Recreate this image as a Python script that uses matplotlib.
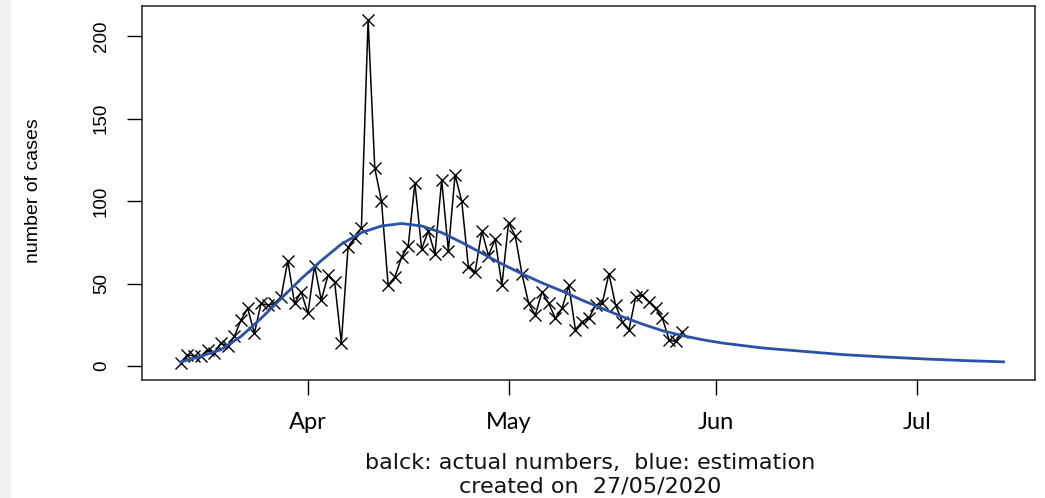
import numpy as np
import pandas as pd
import matplotlib
matplotlib.use('Agg')
from matplotlib import pyplot as plt
from matplotlib.patches import Rectangle

# daily reported cases, 13/03 .. 27/05
start_actual = '2020-03-13'
actual = [2, 7, 6, 6, 10, 8, 14, 12, 18, 28, 35, 20, 38, 37, 38, 42, 64, 38, 45,
          32, 61, 40, 55, 51, 14, 72, 78, 84, 210, 120, 100, 49, 54, 66, 73, 111,
          71, 82, 68, 113, 70, 116, 100, 60, 57, 82, 67, 77, 49,
          87, 79, 56, 38, 31, 45, 38, 29, 35, 49, 22, 27, 29, 37, 38, 56, 37, 27,
          22, 42, 43, 39, 35, 29, 16, 15, 21]

# estimated curve, read every 3 days, 13/03 .. 14/07
start_est = '2020-03-13'
est = [2.5, 6, 10, 18, 29, 41, 53, 64, 74, 81, 85, 86.5, 85, 81, 75, 68.5, 62,
       56, 50.5, 45.5, 40, 35, 30, 25.5, 21.5, 18.5, 16, 14, 12.5, 11, 10, 9, 8,
       7, 6.3, 5.6, 5, 4.4, 3.9, 3.4, 3, 2.6]

month_ticks = ['2020-04-01', '2020-05-01', '2020-06-01', '2020-07-01']
month_labels = ['Apr', 'May', 'Jun', 'Jul']
y_ticks = [0, 50, 100, 150, 200]

d_actual = pd.date_range(start_actual, periods=len(actual), freq='D')
d_est = pd.date_range(start_est, periods=len(est), freq='3D')

W, H = 1045, 498
fig = plt.figure(figsize=(W / 100, H / 100), dpi=100)
fig.patches.append(Rectangle((0, 0), 10 / W, 1, transform=fig.transFigure,
                             color='#f0f0f0', zorder=-1))
ax = fig.add_axes([142 / W, 1 - 380 / H, (1035 - 142) / W, (380 - 6) / H])

ax.plot(d_actual, actual, color='black', lw=1.1, marker='x', ms=9, mew=1.0)
ax.plot(d_est, est, color='#2a52a8', lw=2.0)

apr1 = pd.Timestamp('2020-04-01')
ax.set_xlim(apr1 + pd.Timedelta(days=-24.8), apr1 + pd.Timedelta(days=108.7))
ax.set_ylim(-8.4, 218.4)

ax.set_xticks(pd.to_datetime(month_ticks))
ax.set_xticklabels(month_labels, fontfamily='Lato', fontsize=17)
ax.set_yticks(y_ticks)
ax.set_yticklabels([str(v) for v in y_ticks], rotation=90, va='center',
                   fontfamily='Liberation Sans', fontsize=13.5, color='black')
ax.tick_params(axis='x', length=11, width=1, pad=12)
ax.tick_params(axis='y', length=11, width=1, pad=12)
for s in ax.spines.values():
    s.set_linewidth(1.1)
    s.set_color('#222222')

fig.text(33 / W, 1 - 191 / H, 'number of cases', rotation=90, ha='center',
         va='center', fontsize=14, family='Liberation Sans', color='black')
fig.text(590 / W, 1 - 463 / H, 'balck: actual numbers,  blue: estimation',
         ha='center', va='center', fontsize=16, family='DejaVu Sans', color='#111111')
fig.text(590 / W, 1 - 486 / H, 'created on  27/05/2020',
         ha='center', va='center', fontsize=16, family='DejaVu Sans', color='#111111')

fig.savefig('out.png', dpi=100)
